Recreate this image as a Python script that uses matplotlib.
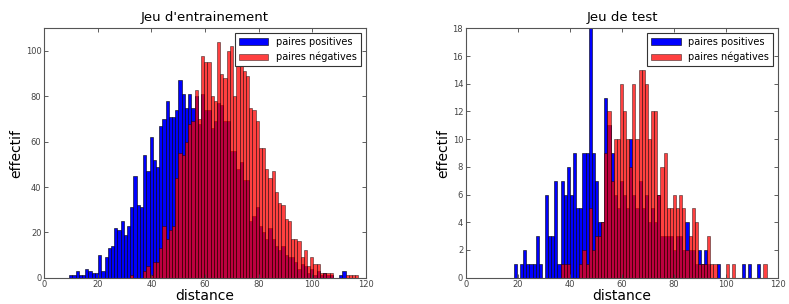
import numpy as np
import matplotlib
matplotlib.use("Agg")
import matplotlib.pyplot as plt

# -----------------------------
# Histogram counts
# -----------------------------
bin_width = 1.2

# training set: 90 bins starting at 9.3
train_start = 9.3
train_pos = [1, 1, 3, 1, 1, 4, 3, 2, 2,
             10, 3, 9, 13, 14, 22, 21, 25, 19, 23, 31,
             45, 32, 31, 54, 47, 62, 52, 49, 67, 70,
             78, 71, 71, 74, 87, 81, 75, 81, 75, 80,
             68, 81, 74, 74, 66, 69, 77, 76, 69, 69,
             56, 56, 48, 51, 43, 43, 25, 27, 31, 23,
             20, 17, 22, 17, 14, 12, 14, 10, 9, 9,
             7, 4, 6, 5, 2, 4, 1, 3, 1, 2,
             1, 1, 0, 0, 1, 3, 0, 0, 0, 0]
train_neg = [0, 0, 0, 0, 0, 0, 0, 0, 0, 0,
             0, 0, 0, 0, 0, 0, 0, 0, 0, 1,
             0, 0, 0, 3, 5, 1, 7, 7, 13, 23,
             17, 21, 23, 44, 55, 54, 60, 68, 69, 83,
             70, 98, 95, 95, 80, 78, 104, 90, 88, 100,
             102, 80, 99, 95, 91, 89, 75, 74, 69, 57,
             57, 48, 44, 47, 38, 33, 32, 26, 25, 17,
             17, 16, 9, 12, 5, 9, 6, 6, 2, 2,
             2, 2, 0, 0, 0, 0, 1, 1, 1, 1]

# test set: 81 bins starting at 18.4
test_start = 18.4
test_pos = [1, 0, 1, 2, 1, 1, 1, 3, 1, 0,
            6, 3, 3, 7, 1, 7, 6, 8, 6, 9,
            5, 5, 9, 9, 18, 9, 7, 4, 4, 13,
            11, 9, 6, 5, 7, 6, 5, 10, 6, 5,
            7, 5, 6, 4, 5, 4, 6, 3, 3, 3,
            3, 2, 3, 3, 2, 4, 2, 2, 1, 2,
            1, 2, 1, 0, 0, 1, 0, 0, 0, 0,
            0, 0, 0, 1, 0, 1, 0, 0, 1, 0, 0]
test_neg = [0, 0, 0, 0, 0, 0, 0, 0, 0, 0,
            0, 0, 0, 0, 0, 1, 1, 1, 0, 0,
            0, 1, 2, 1, 5, 2, 3, 3, 4, 9,
            12, 7, 10, 10, 14, 12, 10, 8, 14, 10,
            15, 15, 14, 10, 12, 12, 6, 8, 9, 5,
            5, 6, 5, 6, 5, 2, 3, 5, 4, 1,
            1, 1, 3, 1, 1, 0, 0, 0, 1, 0,
            1, 0, 0, 0, 0, 0, 0, 0, 0, 0, 1]

labels = ["paires positives", "paires négatives"]


def draw(ax, start, pos, neg, title, ymax, ystep):
    edges = start + bin_width * np.arange(len(pos) + 1)
    ax.hist(edges[:-1], bins=edges, weights=pos, color="b",
            edgecolor="k", linewidth=0.4, label=labels[0])
    ax.hist(edges[:-1], bins=edges, weights=neg, color="r", alpha=0.75,
            edgecolor="k", linewidth=0.4, label=labels[1])
    ax.set_xlim(0, 120)
    ax.set_ylim(0, ymax)
    ax.set_yticks(np.arange(0, ymax + 0.1, ystep))
    ax.set_title(title, fontsize=9.5, pad=5)
    ax.set_xlabel("distance", fontsize=10, labelpad=0)
    ax.set_ylabel("effectif", fontsize=10, labelpad=2)
    ax.tick_params(direction="in", top=True, right=True, labelsize=6,
                   length=3, width=0.6, colors="#444444", pad=2)
    for s in ax.spines.values():
        s.set_color("#555555")
        s.set_linewidth(0.8)
    leg = ax.legend(loc="upper right", fontsize=7, fancybox=False,
                    handlelength=3, borderaxespad=0.5, framealpha=1)
    leg.get_frame().set_edgecolor("#333333")
    leg.get_frame().set_linewidth(0.8)


fig = plt.figure(figsize=(7.89, 3.04), dpi=100)
ax1 = fig.add_axes([0.0561, 0.0865, 0.4074, 0.8204])
ax2 = fig.add_axes([0.5906, 0.0865, 0.3954, 0.8204])

draw(ax1, train_start, train_pos, train_neg, "Jeu d'entrainement", 110, 20)
draw(ax2, test_start, test_pos, test_neg, "Jeu de test", 18, 2)

fig.savefig("out.png", dpi=100)
